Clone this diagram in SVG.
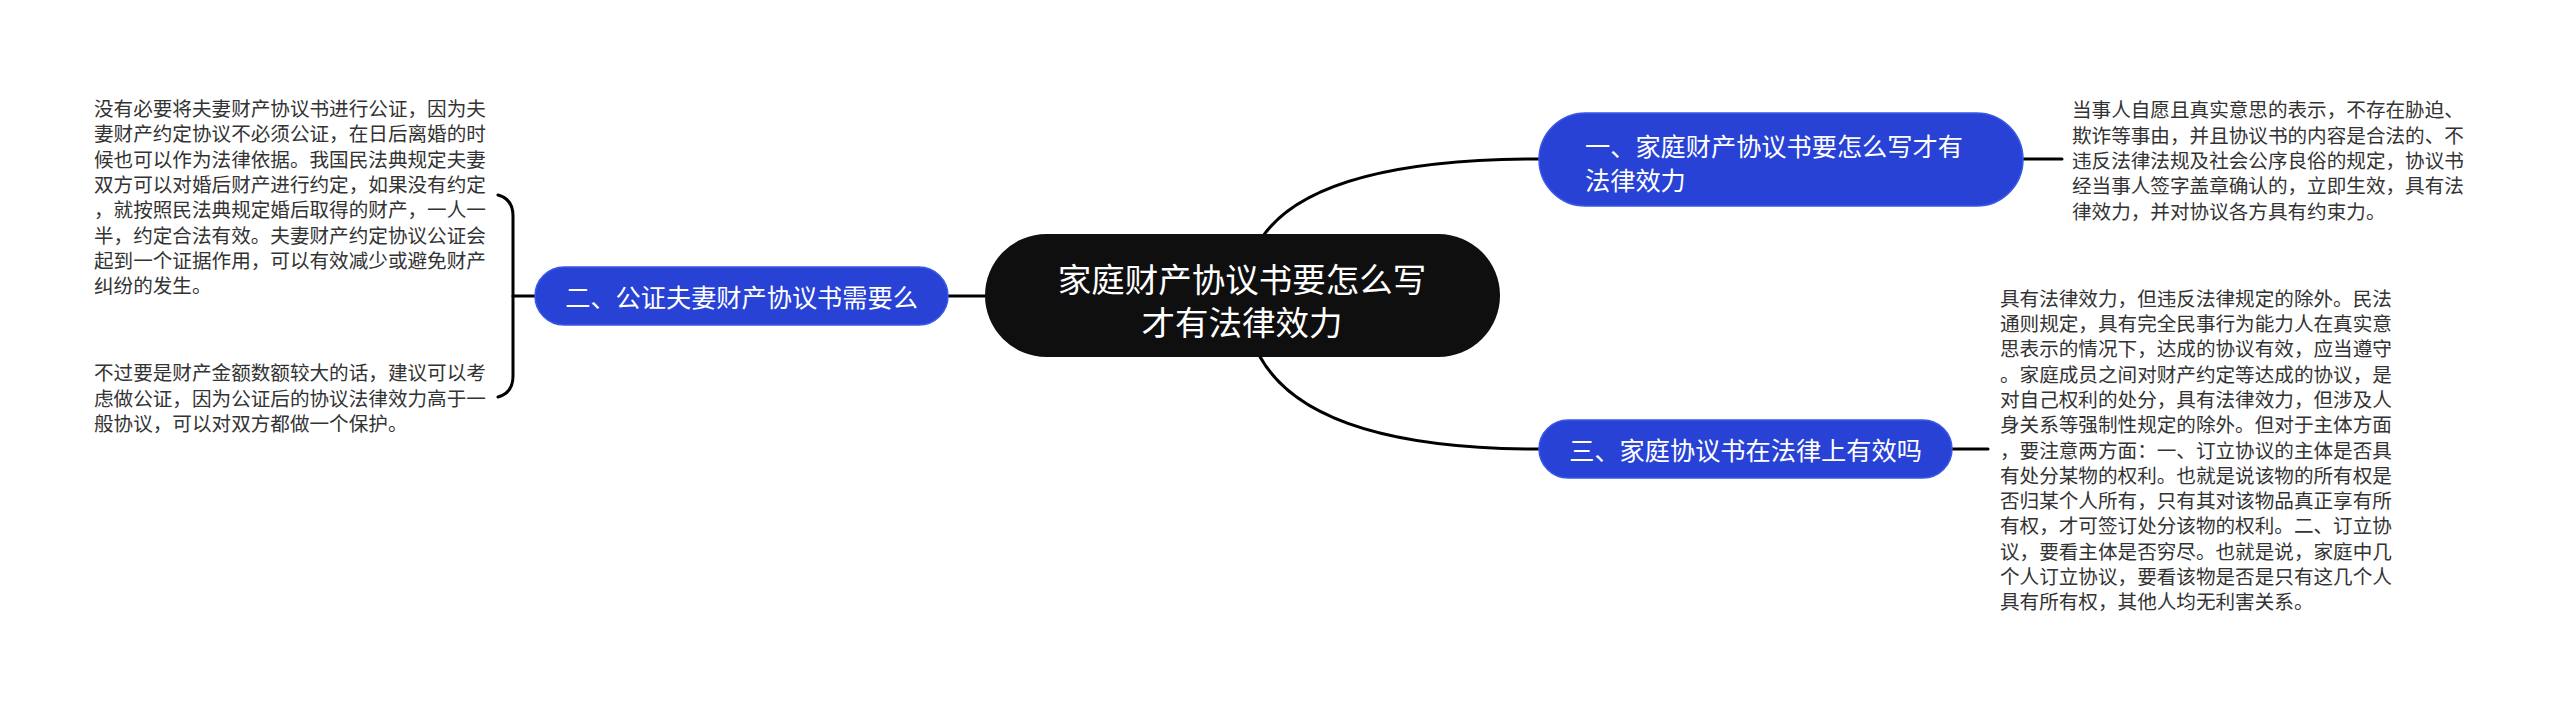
<svg xmlns="http://www.w3.org/2000/svg" width="2560" height="708" viewBox="0 0 2560 708">
<style>
.bg{fill:#ffffff}
.conn{fill:none;stroke:#000000;stroke-width:3;stroke-linecap:round}
.sub{fill:#2842d6;stroke:#3a58e8;stroke-width:1.5}
.root{fill:#0f0f0f}
.t{font-family:"Noto Sans CJK SC","Noto Sans",sans-serif;dominant-baseline:central}
.body{font-size:19.6px;fill:#333333}
.nt{font-size:25.2px;fill:#ffffff}
.rt{font-size:33.5px;fill:#ffffff;text-anchor:middle}
</style>
<rect class="bg" x="0" y="0" width="2560" height="708"/>
<g id="connectors">
<path class="conn" d="M1245 295 Q1245 159 1539 159"/>
<path class="conn" d="M1245 295 Q1245 449 1539 449"/>
<path class="conn" d="M948 296 L985 296"/>
<path class="conn" d="M2023 159 L2062 159"/>
<path class="conn" d="M1952 449 L1988 449"/>
<path class="conn" d="M535 296 L513 296"/>
<path class="conn" d="M498 195 Q513 199 513 216 L513 376 Q513 393 498 397"/>
</g>
<g id="root">
<rect class="root" x="985" y="234" width="515" height="123" rx="61.5"/>
<text class="t rt"><tspan x="1242" y="277">家庭财产协议书要怎么写</tspan><tspan x="1242" y="320">才有法律效力</tspan></text>
</g>
<g id="node1">
<rect class="sub" x="1539" y="113" width="484" height="93" rx="46.5"/>
<text class="t nt"><tspan x="1585" y="145">一、家庭财产协议书要怎么写才有</tspan><tspan x="1585" y="179">法律效力</tspan></text>
</g>
<g id="node2">
<rect class="sub" x="535" y="267" width="413" height="58" rx="29"/>
<text class="t nt" x="741.5" y="296" text-anchor="middle">二、公证夫妻财产协议书需要么</text>
</g>
<g id="node3">
<rect class="sub" x="1539" y="420" width="413" height="58" rx="29"/>
<text class="t nt" x="1745.5" y="449" text-anchor="middle">三、家庭协议书在法律上有效吗</text>
</g>
<g id="text1">
<text class="t body" x="2072" y="108.9">当事人自愿且真实意思的表示，不存在胁迫、</text>
<text class="t body" x="2072" y="134.2">欺诈等事由，并且协议书的内容是合法的、不</text>
<text class="t body" x="2072" y="159.5">违反法律法规及社会公序良俗的规定，协议书</text>
<text class="t body" x="2072" y="184.8">经当事人签字盖章确认的，立即生效，具有法</text>
<text class="t body" x="2072" y="210.1">律效力，并对协议各方具有约束力。</text>
</g>
<g id="text2a">
<text class="t body" x="94" y="107.5">没有必要将夫妻财产协议书进行公证，因为夫</text>
<text class="t body" x="94" y="132.8">妻财产约定协议不必须公证，在日后离婚的时</text>
<text class="t body" x="94" y="158.1">候也可以作为法律依据。我国民法典规定夫妻</text>
<text class="t body" x="94" y="183.4">双方可以对婚后财产进行约定，如果没有约定</text>
<text class="t body" x="94" y="208.7">，就按照民法典规定婚后取得的财产，一人一</text>
<text class="t body" x="94" y="234.0">半，约定合法有效。夫妻财产约定协议公证会</text>
<text class="t body" x="94" y="259.3">起到一个证据作用，可以有效减少或避免财产</text>
<text class="t body" x="94" y="284.6">纠纷的发生。</text>
</g>
<g id="text2b">
<text class="t body" x="94" y="371.7">不过要是财产金额数额较大的话，建议可以考</text>
<text class="t body" x="94" y="397.0">虑做公证，因为公证后的协议法律效力高于一</text>
<text class="t body" x="94" y="422.3">般协议，可以对双方都做一个保护。</text>
</g>
<g id="text3">
<text class="t body" x="2000" y="297.2">具有法律效力，但违反法律规定的除外。民法</text>
<text class="t body" x="2000" y="322.5">通则规定，具有完全民事行为能力人在真实意</text>
<text class="t body" x="2000" y="347.8">思表示的情况下，达成的协议有效，应当遵守</text>
<text class="t body" x="2000" y="373.1">。家庭成员之间对财产约定等达成的协议，是</text>
<text class="t body" x="2000" y="398.4">对自己权利的处分，具有法律效力，但涉及人</text>
<text class="t body" x="2000" y="423.7">身关系等强制性规定的除外。但对于主体方面</text>
<text class="t body" x="2000" y="449.0">，要注意两方面：一、订立协议的主体是否具</text>
<text class="t body" x="2000" y="474.3">有处分某物的权利。也就是说该物的所有权是</text>
<text class="t body" x="2000" y="499.6">否归某个人所有，只有其对该物品真正享有所</text>
<text class="t body" x="2000" y="524.9">有权，才可签订处分该物的权利。二、订立协</text>
<text class="t body" x="2000" y="550.2">议，要看主体是否穷尽。也就是说，家庭中几</text>
<text class="t body" x="2000" y="575.5">个人订立协议，要看该物是否是只有这几个人</text>
<text class="t body" x="2000" y="600.8">具有所有权，其他人均无利害关系。</text>
</g>
</svg>
